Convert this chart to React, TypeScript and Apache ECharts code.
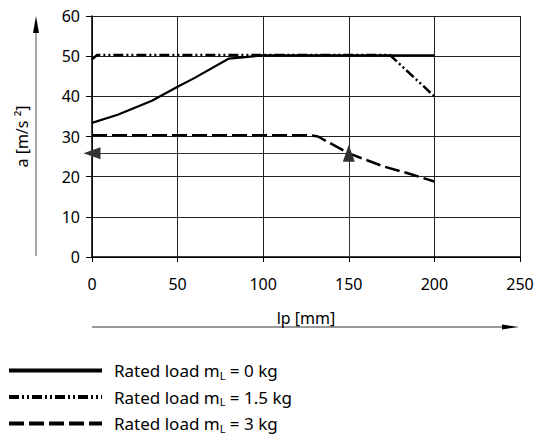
import React, { useEffect, useRef } from "react";
import * as echarts from "echarts";

// Acceleration a [m/s²] over stroke lp [mm] for three rated loads
const loadLabels = ["0 kg", "1.5 kg", "3 kg"];
const load0: [number, number][] = [
  [0, 33.4], [15, 35.4], [35, 38.9], [50, 42.4], [60, 44.6], [80, 49.4], [100, 50.2], [200, 50.2],
];
const load15: [number, number][] = [
  [0, 49.2], [3, 50.3], [174, 50.3], [200, 40.0],
];
const load3: [number, number][] = [
  [0, 30.3], [128, 30.3], [132, 30.0], [150, 25.8], [170, 22.6], [184, 20.9], [200, 18.8],
];
// Example read-off: at lp = 150 mm with 3 kg
const readOff: [number, number] = [150, 25.8];

const FONT = "Noto Sans";
const INK = "#000";

export default function App() {
  const ref = useRef<HTMLDivElement>(null);

  useEffect(() => {
    if (!ref.current) return;
    const chart = echarts.init(ref.current, null, { renderer: "svg" });

    const rich = {
      n: { fontFamily: FONT, fontSize: 17, color: INK, lineHeight: 20 },
      s: { fontFamily: FONT, fontSize: 11, color: INK, lineHeight: 10, verticalAlign: "bottom" },
    };

    chart.setOption({
      animation: false,
      backgroundColor: "#fff",
      textStyle: { fontFamily: FONT },
      grid: { left: 92, right: 22, top: 16, bottom: 179, containLabel: false },
      xAxis: {
        type: "value",
        min: 0,
        max: 250,
        interval: 50,
        name: "lp [mm]",
        nameLocation: "middle",
        nameGap: 53,
        nameTextStyle: { fontFamily: FONT, fontSize: 16, color: INK },
        axisLine: { show: true, onZero: false, lineStyle: { color: INK, width: 1.5 } },
        axisTick: { show: true, length: 5, lineStyle: { color: INK, width: 1 } },
        axisLabel: { fontFamily: FONT, fontSize: 16, color: INK, margin: 19 },
        splitLine: { show: true, lineStyle: { color: "#222", width: 1 } },
      },
      yAxis: {
        type: "value",
        min: 0,
        max: 60,
        interval: 10,
        name: "a [m/s ²]",
        nameLocation: "middle",
        nameRotate: 90,
        nameGap: 62,
        nameTextStyle: { fontFamily: FONT, fontSize: 16, color: INK },
        axisLine: { show: true, lineStyle: { color: INK, width: 1.5 } },
        axisTick: { show: true, length: 6, lineStyle: { color: INK, width: 1 } },
        axisLabel: { fontFamily: FONT, fontSize: 16, color: INK, margin: 12 },
        splitLine: { show: true, lineStyle: { color: "#222", width: 1 } },
      },
      legend: {
        orient: "vertical",
        left: 7,
        top: 362,
        height: 90,
        padding: 0,
        itemWidth: 93,
        itemHeight: 16,
        itemGap: 8,
        data: loadLabels,
        formatter: (name: string) => `{n|Rated load m}{s|L}{n| = ${name}}`,
        textStyle: { fontFamily: FONT, fontSize: 17, color: INK, padding: [0, 0, 0, 7], rich },
        lineStyle: { width: 4 },
        itemStyle: { opacity: 0 },
      },
      series: [
        {
          name: loadLabels[0],
          type: "line",
          data: load0,
          symbol: "none",
          lineStyle: { color: INK, width: 2.2, type: "solid" },
          itemStyle: { color: INK },
          z: 3,
        },
        {
          name: loadLabels[1],
          type: "line",
          data: load15,
          symbol: "none",
          lineStyle: { color: INK, width: 2.5, type: [10, 3, 2, 3, 2, 3] },
          itemStyle: { color: INK },
          z: 4,
        },
        {
          name: loadLabels[2],
          type: "line",
          data: load3,
          symbol: "none",
          lineStyle: { color: INK, width: 2.5, type: [15, 5] },
          itemStyle: { color: INK },
          z: 4,
          markLine: {
            silent: true,
            symbol: ["none", "triangle"],
            symbolSize: [12, 17],
            label: { show: false },
            lineStyle: { color: "#333", width: 1, type: "solid" },
            data: [
              [{ coord: readOff }, { coord: [0, readOff[1]] }],
              [{ coord: [readOff[0], 0] }, { coord: readOff }],
            ],
          },
        },
      ],
      graphic: [
        // axis direction arrows outside the plot
        { type: "line", shape: { x1: 36, y1: 256, x2: 36, y2: 30 }, style: { stroke: "#777", lineWidth: 1.3 } },
        { type: "polygon", shape: { points: [[36, 16], [33, 33], [39, 33]] }, style: { fill: INK } },
        { type: "line", shape: { x1: 92, y1: 327, x2: 505, y2: 327 }, style: { stroke: "#777", lineWidth: 1.3 } },
        { type: "polygon", shape: { points: [[519, 327], [502, 324.5], [502, 329.5]] }, style: { fill: INK } },
      ],
    });

    return () => chart.dispose();
  }, []);

  return <div ref={ref} style={{ width: 542, height: 436, position: "absolute", left: 0, top: 0 }} />;
}
